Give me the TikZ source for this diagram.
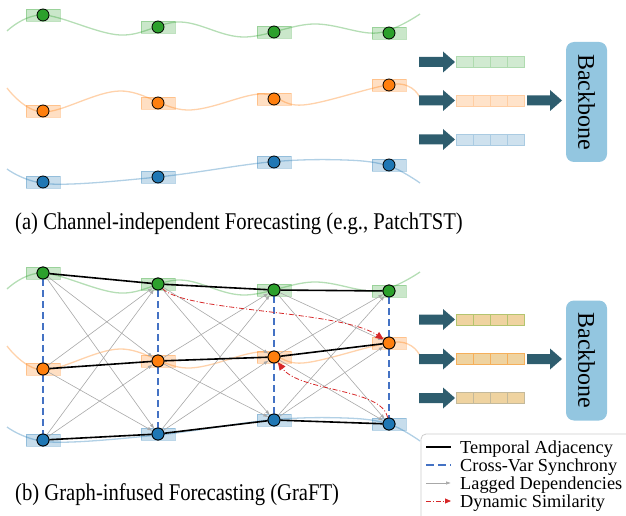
\documentclass[tikz,border=0pt]{standalone}
\usepackage{fontspec}
\setmainfont{Liberation Serif}
\newfontfamily\capfont[FakeStretch=0.86]{Liberation Serif}
\usetikzlibrary{arrows.meta}
\definecolor{tgreen}{HTML}{2CA02C}
\definecolor{torange}{HTML}{FF7F0E}
\definecolor{tblue}{HTML}{1F77B4}
\definecolor{arrcol}{RGB}{46,93,110}
\definecolor{bbfill}{HTML}{93C6E0}
\definecolor{dashblue}{HTML}{4472C4}
\definecolor{dynred}{HTML}{D62728}
\definecolor{laggray}{HTML}{A8A8A8}
\definecolor{tan}{HTML}{EFD3A0}
\definecolor{tanG}{HTML}{B4C46E}
\definecolor{tanO}{HTML}{F5AF5A}
\definecolor{tanB}{HTML}{C4B99A}
\tikzset{
  patch/.style={rectangle, minimum width=34bp, minimum height=12bp, inner sep=0pt, fill opacity=.25, draw opacity=.3, line width=0.8bp},
  pt/.style={circle, draw=black, line width=0.8bp, minimum size=12bp, inner sep=0pt},
  curvea/.style={line width=1.3bp, draw opacity=.35},
  cell/.style={rectangle, minimum width=17bp, minimum height=11bp, inner sep=0pt, line width=0.8bp},
  backbone/.style={rectangle, rounded corners=8bp, fill=bbfill, rotate=-90, minimum width=120bp, minimum height=41bp, inner sep=0pt, font=\fontsize{24bp}{26bp}\selectfont},
  lag/.style={draw=laggray, line width=0.6bp, -{Latex[length=5bp,width=3.5bp]}},
  cross/.style={draw=dashblue, line width=1.3bp, dash pattern=on 7bp off 4bp},
  temporal/.style={draw=black, line width=1.6bp},
  dyn/.style={draw=dynred, line width=0.8bp, dash pattern=on 5bp off 2bp on 1bp off 2bp, -{Triangle[length=8bp,width=7bp]}},
  legtext/.style={anchor=base west, inner sep=0pt, font=\fontsize{18.3bp}{20bp}\selectfont},
  captext/.style={anchor=base west, inner sep=0pt, font=\capfont\fontsize{24bp}{28bp}\selectfont},
}
\newcommand{\mycurves}{%
  \draw[curvea, tgreen] plot[smooth, tension=0.6] coordinates {(7,31) (43,15) (120,35) (180,22) (243,37) (313,24) (377,33) (420,14)};
  \draw[curvea, torange] plot[smooth, tension=0.6] coordinates {(7,88) (43,112) (120,91) (187,110) (260,94) (303,105) (395,84) (420,98)};
  \draw[curvea, tblue] plot[smooth, tension=0.6] coordinates {(7,169) (50,184) (158,177) (270,162) (345,160) (389,166) (420,183)};
}
\newcommand{\fatarr}[3]{%
  \fill[arrcol] (#1,#2-5) -- (#1+#3-12,#2-5) -- (#1+#3-12,#2-10.5) -- (#1+#3,#2) -- (#1+#3-12,#2+10.5) -- (#1+#3-12,#2+5) -- (#1,#2+5) -- cycle;}
\begin{document}
\begin{tikzpicture}[x=1bp,y=-1bp]
\useasboundingbox (0,0) rectangle (626,516);
% ---------------- panel (a)
\mycurves
\foreach \i/\x/\yg/\yo/\yb in {1/43/15/111/182, 2/158/27/103/177, 3/274/32/99/162, 4/389/33/85/165}{
  \node[patch, fill=tgreen, draw=tgreen] (tpg\i) at (\x,\yg) {};
  \node[patch, fill=torange, draw=torange] (tpo\i) at (\x,\yo) {};
  \node[patch, fill=tblue, draw=tblue] (tpb\i) at (\x,\yb) {};
  \node[pt, fill=tgreen] (tg\i) at (\x,\yg) {};
  \node[pt, fill=torange] (to\i) at (\x,\yo) {};
  \node[pt, fill=tblue] (tb\i) at (\x,\yb) {};
}
\fatarr{419}{62}{36}
\fatarr{419}{100.5}{36}
\fatarr{419}{139.5}{36}
\fatarr{527}{100.5}{35}
\foreach \k in {0,...,3}{
  \node[cell, fill=tgreen!22, draw=tgreen!38] (sg\k) at (464.5+17*\k,62) {};
  \node[cell, fill=torange!22, draw=torange!38] (so\k) at (464.5+17*\k,100.5) {};
  \node[cell, fill=tblue!22, draw=tblue!38] (sb\k) at (464.5+17*\k,139.5) {};
}
\node[backbone] (bbA) at (586.5,102) {Backbone};
\node[captext] (capA) at (15,229.5) {(a) Channel-independent Forecasting (e.g., PatchTST)};
% ---------------- panel (b)
\begin{scope}[shift={(0,258)}]
  \mycurves
\end{scope}
\foreach \i/\x/\yg/\yo/\yb in {1/43/273/369/440, 2/158/284/361/434, 3/274/290/357/420, 4/389/291/343/424}{
  \node[patch, fill=tgreen, draw=tgreen] (bpg\i) at (\x,\yg) {};
  \node[patch, fill=torange, draw=torange] (bpo\i) at (\x,\yo) {};
  \node[patch, fill=tblue, draw=tblue] (bpb\i) at (\x,\yb) {};
}
\foreach \i/\x/\yg/\yo/\yb in {1/43/273/369/440, 2/158/284/361/434, 3/274/290/357/420, 4/389/291/343/424}{
  \node[pt, fill=tgreen] (ng\i) at (\x,\yg) {};
  \node[pt, fill=torange] (no\i) at (\x,\yo) {};
  \node[pt, fill=tblue] (nb\i) at (\x,\yb) {};
}
\foreach \i in {1,2,3}{
  \pgfmathtruncatemacro{\j}{\i+1}
  \draw[lag] (ng\i) -- (no\j);
  \draw[lag] (ng\i) -- (nb\j);
  \draw[lag] (no\i) -- (ng\j);
  \draw[lag] (no\i) -- (nb\j);
  \draw[lag] (nb\i) -- (ng\j);
  \draw[lag] (nb\i) -- (no\j);
}
\foreach \i in {1,...,4}{
  \draw[cross] (ng\i) -- (no\i);
  \draw[cross] (no\i) -- (nb\i);
}
\foreach \i in {1,2,3}{
  \pgfmathtruncatemacro{\j}{\i+1}
  \draw[temporal] (ng\i) -- (ng\j);
  \draw[temporal] (no\i) -- (no\j);
  \draw[temporal] (nb\i) -- (nb\j);
}
\draw[dyn] (ng2) .. controls (185,312) and (340,310) .. (no4);
\draw[dyn] (nb4) .. controls (382,388) and (300,392) .. (no3);
% node circles on top
\foreach \i/\x/\yg/\yo/\yb in {1/43/273/369/440, 2/158/284/361/434, 3/274/290/357/420, 4/389/291/343/424}{
  \node[pt, fill=tgreen] at (\x,\yg) {};
  \node[pt, fill=torange] at (\x,\yo) {};
  \node[pt, fill=tblue] at (\x,\yb) {};
}
\fatarr{419}{319.5}{36}
\fatarr{419}{359}{36}
\fatarr{419}{398}{36}
\fatarr{527}{359}{35}
\foreach \k in {0,...,3}{
  \node[cell, fill=tan, draw=tanG] (tg\k) at (464.5+17*\k,319.5) {};
  \node[cell, fill=tan, draw=tanO] (tO\k) at (464.5+17*\k,359) {};
  \node[cell, fill=tan, draw=tanB] (tB\k) at (464.5+17*\k,398) {};
}
\node[backbone] (bbB) at (586.5,360.5) {Backbone};
\node[captext] (capB) at (15,500) {(b) Graph-infused Forecasting (GraFT)};
% ---------------- legend
\draw[draw=black!20, line width=0.8bp, rounded corners=5bp] (421,520) -- (421,434) -- (632,434);
\coordinate (l1a) at (426,447); \coordinate (l1b) at (451,447);
\coordinate (l2a) at (426,465); \coordinate (l2b) at (451,465);
\coordinate (l3a) at (426,483); \coordinate (l3b) at (451,483);
\coordinate (l4a) at (426,501); \coordinate (l4b) at (451,501);
\draw[temporal] (l1a) -- (l1b);
\draw[cross, dash pattern=on 8bp off 4bp] (l2a) -- (l2b);
\draw[lag] (l3a) -- (l3b);
\draw[dyn, -{Triangle[length=6bp,width=5bp]}] (l4a) -- (l4b);
\node[legtext] (leg1) at (460,453) {Temporal Adjacency};
\node[legtext] (leg2) at (460,471) {Cross-Var Synchrony};
\node[legtext] (leg3) at (460,489) {Lagged Dependencies};
\node[legtext] (leg4) at (460,507) {Dynamic Similarity};
\end{tikzpicture}
\end{document}
